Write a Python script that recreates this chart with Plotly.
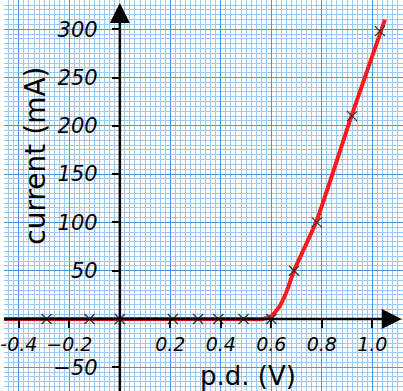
import plotly.graph_objects as go

# Data
pd_points = [-0.29, -0.12, 0.0, 0.21, 0.31, 0.39, 0.49, 0.60, 0.69, 0.78, 0.92, 1.03]
current_points = [0, 0, 0, 0, 0, 0, 0, 0, 50, 100, 210, 298]

curve_v = [-0.46, 0.0, 0.50, 0.565, 0.60, 0.63, 0.66, 0.69, 0.78, 0.92, 1.05]
curve_i = [0, 0, 0, 0, 3, 12, 28, 50, 102, 212, 310]

x_ticks = [-0.4, -0.2, 0.2, 0.4, 0.6, 0.8, 1.0]
x_labels = ["-0.4", "\u22120.2", "0.2", "0.4", "0.6", "0.8", "1.0"]
y_ticks = [-50, 50, 100, 150, 200, 250, 300]
y_labels = ["\u221250", "50", "100", "150", "200", "250", "300"]

W, H = 403, 391
x0_px, px_per_v = 117, 255.0
y0_px, px_per_ma = 319, 0.966
x_range = [-x0_px / px_per_v, (W - x0_px) / px_per_v]
y_range = [-(H - y0_px) / px_per_ma, y0_px / px_per_ma]

fig = go.Figure()
fig.add_trace(go.Scatter(x=curve_v, y=curve_i, mode="lines",
                         line=dict(color="#ff1a1a", width=4, shape="spline", smoothing=0.5),
                         hoverinfo="skip"))
fig.add_trace(go.Scatter(x=pd_points, y=current_points, mode="markers",
                         marker=dict(symbol="x-thin", size=10,
                                     line=dict(color="#333333", width=1.3))))

tickfont = dict(family="DejaVu Sans", size=19, color="black", style="italic")
fig.update_xaxes(range=x_range, anchor="free", position=(H - y0_px) / H,
                 showline=False, zeroline=False,
                 tickmode="array", tickvals=x_ticks, ticktext=x_labels,
                 ticks="outside", ticklen=8, tickwidth=1.5, tickcolor="black",
                 ticklabelstandoff=0, tickfont=tickfont, ticklabeloverflow="allow",
                 showgrid=True, gridcolor="#4a95e0", gridwidth=1.3,
                 minor=dict(dtick=0.02, tick0=0, showgrid=True,
                            gridcolor="#9cc7f0", gridwidth=1, ticks=""))
fig.update_yaxes(range=y_range, anchor="free", position=x0_px / W,
                 showline=False, zeroline=False,
                 tickmode="array", tickvals=y_ticks, ticktext=y_labels,
                 ticks="outside", ticklen=8, tickwidth=1.5, tickcolor="black",
                 ticklabelstandoff=10, tickfont=dict(tickfont, size=21),
                 ticklabeloverflow="allow",
                 showgrid=True, gridcolor="#4a95e0", gridwidth=1.3,
                 minor=dict(dtick=5, tick0=0, showgrid=True,
                            gridcolor="#9cc7f0", gridwidth=1, ticks=""))

# axes with arrows
fig.add_shape(type="line", xref="x", yref="y", x0=x_range[0], x1=x_range[1] - 0.06,
              y0=0, y1=0, line=dict(color="black", width=2.5))
fig.add_shape(type="line", xref="x", yref="y", x0=0, x1=0,
              y0=y_range[0], y1=y_range[1] - 15, line=dict(color="black", width=2.5))
fig.add_annotation(x=x_range[1] - 0.005, y=0, ax=-22, ay=0, xref="x", yref="y",
                   showarrow=True, arrowhead=2, arrowsize=1.6, arrowwidth=2.5, arrowcolor="black", text="")
fig.add_annotation(x=0, y=y_range[1] - 3, ax=0, ay=22, xref="x", yref="y",
                   showarrow=True, arrowhead=2, arrowsize=1.6, arrowwidth=2.5, arrowcolor="black", text="")

fig.add_annotation(text="current (mA)", xref="paper", yref="paper",
                   x=31 / W, y=1 - 156 / H, xanchor="center", yanchor="middle",
                   showarrow=False, textangle=-90,
                   font=dict(family="DejaVu Sans", size=28, color="black"))
fig.add_annotation(text="p.d. (V)", xref="paper", yref="paper",
                   x=246 / W, y=1 - 376 / H, xanchor="center", yanchor="middle",
                   showarrow=False,
                   font=dict(family="DejaVu Sans", size=26, color="black"))

fig.update_layout(width=W, height=H, margin=dict(l=0, r=0, t=0, b=0),
                  plot_bgcolor="white", paper_bgcolor="white", showlegend=False)
fig.write_html("out.html", config={"displayModeBar": False},
               post_script="document.body.style.margin='0px';")
